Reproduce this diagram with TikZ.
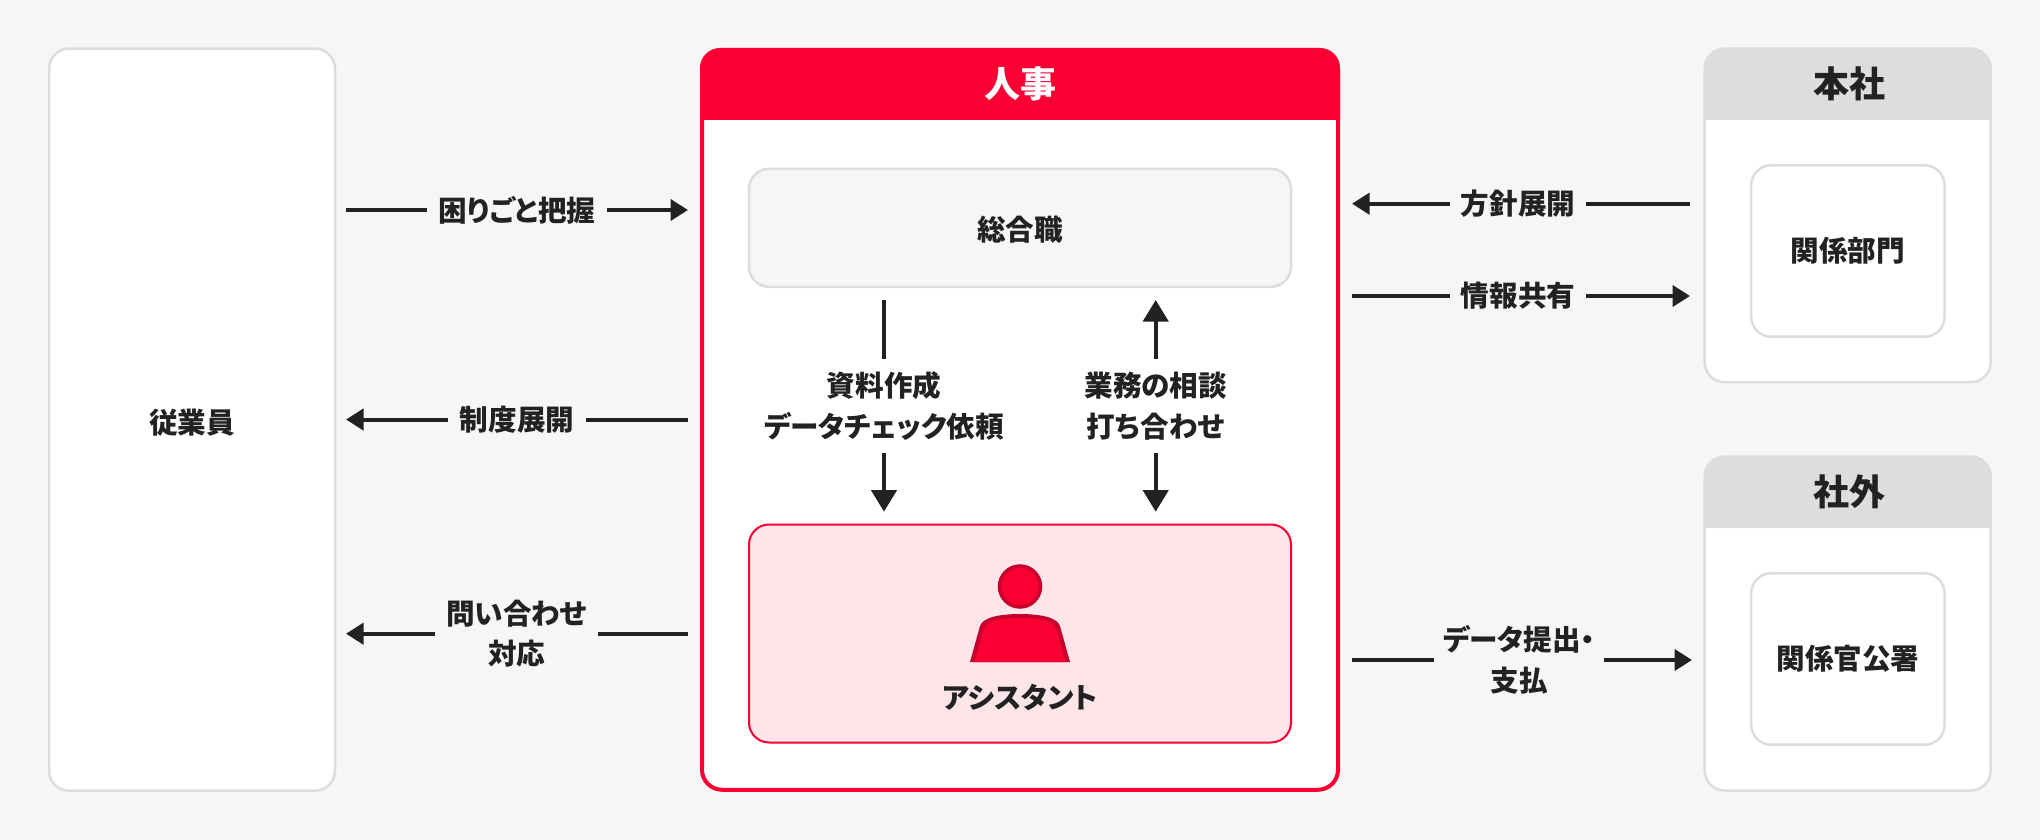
\documentclass[tikz,border=0pt]{standalone}
\usepackage{fontspec}
\setmainfont{Noto Sans CJK JP}[RawFeature=+palt]
\usetikzlibrary{arrows.meta,positioning}
\definecolor{hrred}{HTML}{FA0032}
\definecolor{hrdark}{HTML}{C8002D}
\definecolor{hrpink}{HTML}{FEE5EA}
\definecolor{linegray}{HTML}{DDDDDD}
\definecolor{paper}{HTML}{F6F6F6}
\definecolor{ink}{HTML}{222222}
\tikzset{
	panel/.style={draw=linegray, line width=2.5pt, fill=white, rounded corners=20pt, inner sep=0pt},
	title/.style={inner sep=0pt, font=\fontsize{36}{44}\selectfont\bfseries},
	lbl/.style={inner sep=0pt, text=ink, align=center, font=\fontsize{28.6}{40.5}\selectfont\bfseries},
	flow/.style={draw=ink, line width=4pt},
	flowtip/.style={flow, -{Triangle[length=17.5pt,width=21pt]}},
	vtip/.style={flow, -{Triangle[length=21.5pt,width=25pt]}},
}
\begin{document}
\begin{tikzpicture}[x=1pt,y=-1pt]
	\useasboundingbox[fill=paper] (0,0) rectangle (2040,840);
	% boxes
	\node[panel, minimum width=286pt, minimum height=742pt] (staff) at (192,419.7) {};
	\node[lbl] (staffname) at (192,423) {従業員};
	\node[panel, draw=hrred, line width=4pt, minimum width=636pt, minimum height=739.7pt] (hr) at (1020,419.9) {};
	\fill[hrred] (700,120) [rounded corners=20pt] -- (700,48) -- (1340,48) [sharp corners] -- (1340,120) -- cycle;
	\node[title, text=white] (hrtitle) at (1020,83.5) {人事};
	\node[panel, fill=paper, minimum width=542pt, minimum height=118pt] (general) at (1020,227.8) {};
	\node[lbl] (generalname) at (1020,230) {総合職};
	\node[panel, draw=hrred, line width=2pt, fill=hrpink, minimum width=542pt, minimum height=218pt] (assist) at (1020,633.5) {};
	\node[lbl] (assistname) at (1020,697) {アシスタント};
	% person
	\node[circle, draw=hrdark, fill=hrred, line width=3.5pt, minimum size=41pt, inner sep=0pt] (head) at (1020,586.5) {};
	\fill[hrdark] (970,662) -- (980,626) .. controls (983,616) and (1005,614) .. (1020,614) .. controls (1035,614) and (1057,616) .. (1060,626) -- (1070,662) -- cycle;
	\fill[hrred] (974.5,662) -- (984,628) .. controls (986,620) and (1005,618) .. (1020,618) .. controls (1035,618) and (1054,620) .. (1056,628) -- (1065.5,662) -- cycle;
	% head office
	\node[panel, minimum width=286pt, minimum height=333.6pt] (hq) at (1847.7,215.4) {};
	\fill[linegray] (1704.3,120) [rounded corners=20pt] -- (1704.3,48) -- (1991,48) [sharp corners] -- (1991,120) -- cycle;
	\node[title, text=ink] (hqtitle) at (1849,83.5) {本社};
	\node[panel, minimum width=193.4pt, minimum height=171.4pt] (dept) at (1847.9,251) {};
	\node[lbl] (deptname) at (1847.9,251) {関係部門};
	% outside
	\node[panel, minimum width=286pt, minimum height=334pt] (ext) at (1847.7,623.5) {};
	\fill[linegray] (1704.3,528) [rounded corners=20pt] -- (1704.3,456) -- (1991,456) [sharp corners] -- (1991,528) -- cycle;
	\node[title, text=ink] (exttitle) at (1849,491.5) {社外};
	\node[panel, minimum width=193.4pt, minimum height=171.4pt] (agency) at (1847.9,659) {};
	\node[lbl] (agencyname) at (1847.9,659) {関係官公署};
	% labels
	\node[lbl, minimum width=180pt] (issue) at (517,210) {困りごと把握};
	\node[lbl, minimum width=137pt] (policy) at (517,419.5) {制度展開};
	\node[lbl, minimum width=162.6pt] (inquiry) at (516.7,633.7) {問い合わせ\\対応};
	\node[lbl, minimum width=136pt] (direct) at (1518,203.7) {方針展開};
	\node[lbl, minimum width=136pt] (share) at (1518,296) {情報共有};
	\node[lbl, minimum width=170pt] (submit) at (1519,660) {データ提出・\\支払};
	\node[lbl, minimum height=93.8pt] (request) at (884,405.9) {資料作成\\データチェック依頼};
	\node[lbl, minimum height=93.8pt] (consult) at (1155.7,405.9) {業務の相談\\打ち合わせ};
	% free ends
	\coordinate (issueL) at (346,210);
	\coordinate (issueR) at (688,210);
	\coordinate (policyL) at (346,419.5);
	\coordinate (policyR) at (688,419.5);
	\coordinate (inquiryL) at (346,633.7);
	\coordinate (inquiryR) at (688,633.7);
	\coordinate (directL) at (1352,203.7);
	\coordinate (directR) at (1690,203.7);
	\coordinate (shareL) at (1352,296);
	\coordinate (shareR) at (1690,296);
	\coordinate (submitL) at (1352,660);
	\coordinate (submitR) at (1692,660);
	\coordinate (requestT) at (884,300);
	\coordinate (requestB) at (884,511.7);
	\coordinate (consultT) at (1155.7,300);
	\coordinate (consultB) at (1155.7,511.7);
	% connectors
	\draw[flow] (issueL)--(issue.west);
	\draw[flowtip] (issue.east)--(issueR);
	\draw[flowtip] (policy.west)--(policyL);
	\draw[flow] (policy.east)--(policyR);
	\draw[flowtip] (inquiry.west)--(inquiryL);
	\draw[flow] (inquiry.east)--(inquiryR);
	\draw[flowtip] (direct.west)--(directL);
	\draw[flow] (direct.east)--(directR);
	\draw[flow] (shareL)--(share.west);
	\draw[flowtip] (share.east)--(shareR);
	\draw[flow] (submitL)--(submit.west);
	\draw[flowtip] (submit.east)--(submitR);
	\draw[flow] (requestT)--(request.north);
	\draw[vtip] (request.south)--(requestB);
	\draw[vtip] (consult.north)--(consultT);
	\draw[vtip] (consult.south)--(consultB);
\end{tikzpicture}
\end{document}
